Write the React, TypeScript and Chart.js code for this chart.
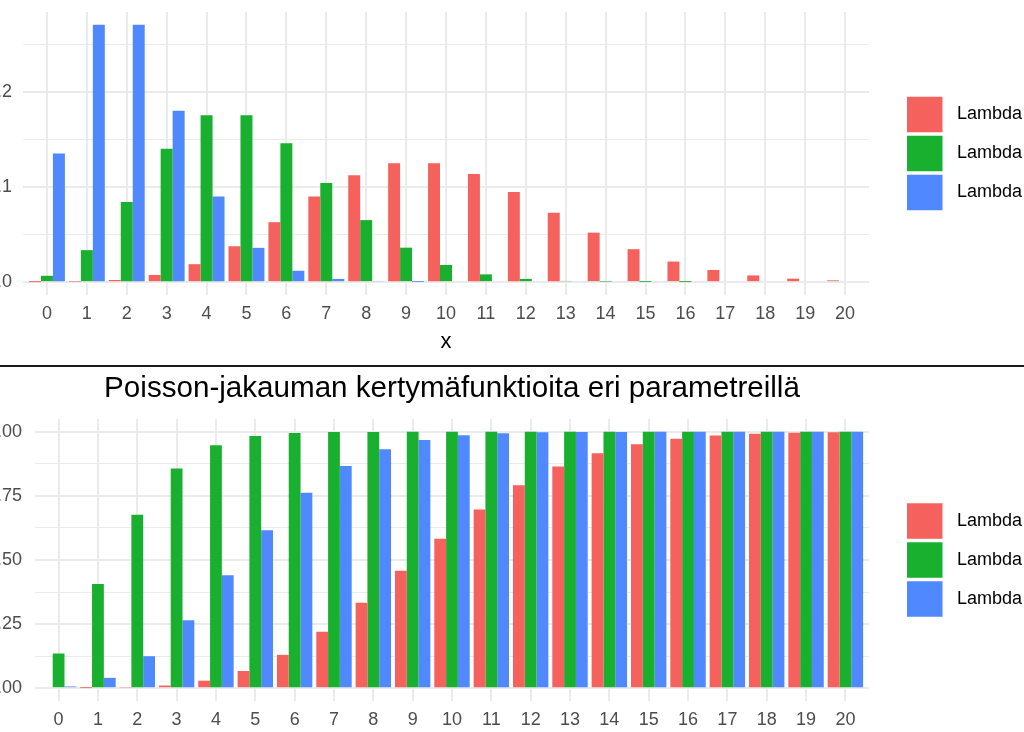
import React, { useEffect, useRef } from 'react';
import { Chart, registerables } from 'chart.js';

Chart.register(...registerables);

const FONT = "'Liberation Sans', Arial, Helvetica, sans-serif";

// ---------- data ----------
const xValues = [0, 1, 2, 3, 4, 5, 6, 7, 8, 9, 10, 11, 12, 13, 14, 15, 16, 17, 18, 19, 20];

const pmfLambda10 = [0.00005, 0.0005, 0.0023, 0.0076, 0.0189, 0.0378, 0.0631, 0.0901, 0.1126, 0.1251, 0.1251, 0.1137, 0.0948, 0.0729, 0.0521, 0.0347, 0.0217, 0.0128, 0.0071, 0.0037, 0.0019];
const pmfLambda5 = [0.0067, 0.0337, 0.0842, 0.1404, 0.1755, 0.1755, 0.1462, 0.1044, 0.0653, 0.0363, 0.0181, 0.0082, 0.0034, 0.0013, 0.0005, 0.0002, 0.0001, 0, 0, 0, 0];
const pmfLambda2 = [0.1353, 0.2707, 0.2707, 0.1804, 0.0902, 0.0361, 0.012, 0.0034, 0.0009, 0.0002, 0, 0, 0, 0, 0, 0, 0, 0, 0, 0, 0];

const cdfLambda10 = [0.0000, 0.0005, 0.0028, 0.0103, 0.0293, 0.0671, 0.1301, 0.2202, 0.3328, 0.4579, 0.583, 0.6968, 0.7916, 0.8645, 0.9165, 0.9513, 0.973, 0.9857, 0.9928, 0.9965, 0.9984];
const cdfLambda2 = [0.1353, 0.406, 0.6767, 0.8571, 0.9473, 0.9834, 0.9955, 0.9989, 0.9998, 1.0, 1.0, 1.0, 1.0, 1.0, 1.0, 1.0, 1.0, 1.0, 1.0, 1.0, 1.0];
const cdfLambda5 = [0.0067, 0.0404, 0.1247, 0.265, 0.4405, 0.616, 0.7622, 0.8666, 0.9319, 0.9682, 0.9863, 0.9945, 0.998, 0.9993, 0.9998, 0.9999, 1.0, 1.0, 1.0, 1.0, 1.0];

const pmfSeriesLabels = ['Lambda = 10', 'Lambda = 5', 'Lambda = 2'];
const cdfSeriesLabels = ['Lambda = 10', 'Lambda = 2', 'Lambda = 5'];

const pmfYTicks = [0, 0.05, 0.1, 0.15, 0.2, 0.25];
const pmfYTickLabels = ['0.0', '', '0.1', '', '0.2', ''];
const cdfYTicks = [0, 0.125, 0.25, 0.375, 0.5, 0.625, 0.75, 0.875, 1.0];
const cdfYTickLabels = ['0.00', '', '0.25', '', '0.50', '', '0.75', '', '1.00'];

const cdfTitle = 'Poisson-jakauman kertymäfunktioita eri parametreillä';
const xTitle = 'x';

const COLORS = ['#F5615C', '#19B02F', '#5088FF'];

// ---------- legend plugin (ggplot-style keys) ----------
const ggLegend = {
  id: 'ggLegend',
  afterDraw(chart: any, _args: any, opts: any) {
    const { ctx, chartArea } = chart;
    const ds = chart.data.datasets;
    const key = opts.keySize;
    const pitch = opts.pitch;
    const total = (ds.length - 1) * pitch + key;
    let y = (chartArea.top + chartArea.bottom) / 2 - total / 2;
    const x = chartArea.right + opts.gap;
    ctx.save();
    ctx.font = `${opts.fontSize}px ${FONT}`;
    ctx.textAlign = 'left';
    ctx.textBaseline = 'middle';
    ds.forEach((d: any) => {
      ctx.fillStyle = d.backgroundColor;
      ctx.fillRect(x, y, key, key);
      ctx.fillStyle = '#000000';
      ctx.fillText(d.label, x + key + opts.textGap, y + key / 2);
      y += pitch;
    });
    ctx.restore();
  },
};

function isMajor(v: number, step: number) {
  const r = v / step;
  return Math.abs(r - Math.round(r)) < 1e-6;
}

function makeConfig(opts: {
  labels: string[];
  series: number[][];
  yMin: number;
  yMax: number;
  yTicks: number[];
  yTickLabels: string[];
  majorStep: number;
  padding: { left: number; right: number; top: number; bottom: number };
  xHeight: number;
  yLabelPad: number;
  title?: any;
  xTitle?: any;
}) {
  return {
    type: 'bar' as const,
    data: {
      labels: xValues,
      datasets: opts.series.map((s, i) => ({
        label: opts.labels[i],
        data: s,
        backgroundColor: COLORS[i],
        borderWidth: 0,
        categoryPercentage: 0.9,
        barPercentage: 1.0,
      })),
    },
    options: {
      responsive: false,
      animation: false as const,
      events: [] as any[],
      layout: { padding: opts.padding },
      plugins: {
        legend: { display: false },
        tooltip: { enabled: false },
        title: opts.title || { display: false },
        ggLegend: { keySize: 35.5, pitch: 39, gap: 38, textGap: 14.5, fontSize: 18 },
      },
      scales: {
        x: {
          type: 'linear' as const,
          min: -0.6,
          max: 20.6,
          offset: false,
          afterBuildTicks: (scale: any) => {
            scale.ticks = xValues.map((v) => ({ value: v }));
          },
          afterFit: (scale: any) => {
            scale.height = opts.xHeight;
          },
          ticks: {
            autoSkip: false,
            maxRotation: 0,
            padding: 8,
            color: '#4D4D4D',
            font: { family: FONT, size: 18 },
            callback: (v: any) => String(v),
          },
          grid: { color: '#EBEBEB', lineWidth: 2, drawTicks: false, offset: false },
          border: { display: false },
          title: opts.xTitle || { display: false },
        },
        y: {
          type: 'linear' as const,
          min: opts.yMin,
          max: opts.yMax,
          afterBuildTicks: (scale: any) => {
            scale.ticks = opts.yTicks.map((v) => ({ value: v }));
          },
          afterFit: (scale: any) => {
            scale.width = 40;
            scale.paddingTop = 0;
            scale.paddingBottom = 0;
          },
          ticks: {
            autoSkip: false,
            padding: opts.yLabelPad,
            color: '#4D4D4D',
            font: { family: FONT, size: 18 },
            callback: (_v: any, i: number) => opts.yTickLabels[i],
          },
          grid: {
            color: '#EBEBEB',
            lineWidth: (c: any) => (c.tick && isMajor(c.tick.value, opts.majorStep) ? 2 : 1),
            drawTicks: false,
          },
          border: { display: false },
        },
      },
    },
    plugins: [ggLegend],
  };
}

function ChartCanvas({ config, width, height, style }: any) {
  const ref = useRef<HTMLCanvasElement>(null);
  useEffect(() => {
    if (!ref.current) return;
    const chart = new Chart(ref.current, config);
    return () => chart.destroy();
  }, []);
  return <canvas ref={ref} width={width} height={height} style={{ position: 'absolute', width, height, ...style }} />;
}

export default function App() {
  const pmfConfig = makeConfig({
    labels: pmfSeriesLabels,
    series: [pmfLambda10, pmfLambda5, pmfLambda2],
    yMin: -0.0135,
    yMax: 0.2842,
    yTicks: pmfYTicks,
    yTickLabels: pmfYTickLabels,
    majorStep: 0.1,
    padding: { left: 43, right: 155, top: 12, bottom: 0 },
    xHeight: 65,
    yLabelPad: 11,
    xTitle: {
      display: true,
      text: xTitle,
      color: '#000000',
      font: { family: FONT, size: 22 },
      padding: { top: 0, bottom: 5 },
    },
  });
  const cdfConfig = makeConfig({
    labels: cdfSeriesLabels,
    series: [cdfLambda10, cdfLambda2, cdfLambda5],
    yMin: -0.05,
    yMax: 1.05,
    yTicks: cdfYTicks,
    yTickLabels: cdfYTickLabels,
    majorStep: 0.25,
    padding: { left: 55, right: 155, top: 0, bottom: 0 },
    xHeight: 39,
    yLabelPad: 13,
    title: {
      display: true,
      text: cdfTitle,
      color: '#000000',
      fullSize: false,
      font: { family: FONT, size: 29.6, weight: 'normal' },
      padding: { top: 3.4, bottom: 12.1 },
    },
  });
  return (
    <div style={{ position: 'fixed', left: 0, top: 0, width: 1024, height: 732, overflow: 'hidden', background: '#ffffff' }}>
      <ChartCanvas config={pmfConfig} width={1084} height={360} style={{ left: -60, top: 0 }} />
      <div style={{ position: 'absolute', left: 0, top: 365, width: 1024, height: 2, background: '#1a1a1a' }} />
      <ChartCanvas config={cdfConfig} width={1084} height={372} style={{ left: -60, top: 368 }} />
    </div>
  );
}
